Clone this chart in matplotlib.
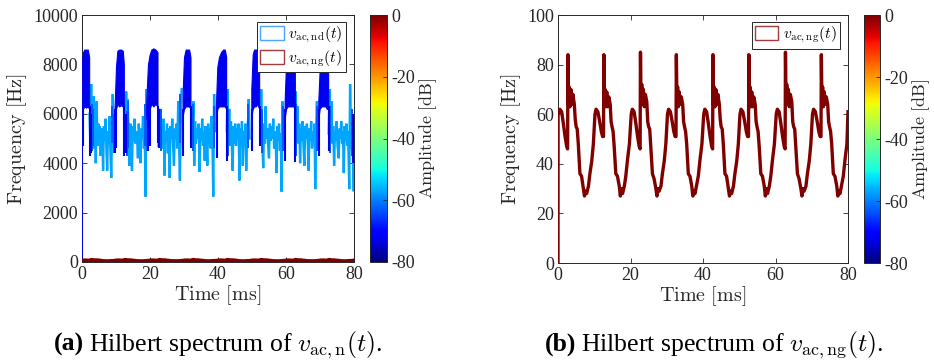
import numpy as np
import matplotlib
matplotlib.use('Agg')
import matplotlib.pyplot as plt
from matplotlib import colors
from matplotlib.cm import ScalarMappable
from matplotlib.patches import Patch

plt.rcParams['font.family'] = ['Liberation Serif', 'DejaVu Serif']
plt.rcParams['mathtext.fontset'] = 'cm'

# ---------------- data ----------------
# v_ac,ng(t): instantaneous frequency [Hz] vs time [ms], per 10 ms period
ng_t = [
    [0.0, 0.02, 0.5, 1.0, 1.5, 1.95, 2.4, 2.65, 2.75, 2.9, 3.1, 3.3, 3.55, 3.8, 4.1, 4.5, 4.75, 5.0, 5.3, 5.6, 6.05, 6.5, 7.0, 7.3, 7.6, 7.9, 8.4, 8.8, 9.3, 9.75],
    [10.0, 10.2, 10.5, 11.0, 11.5, 11.95, 12.3, 12.55, 12.65, 12.8, 13.0, 13.2, 13.45, 13.7, 14.0, 14.4, 14.65, 14.9, 15.2, 15.5, 15.95, 16.4, 16.9, 17.2, 17.5, 17.8, 18.3, 18.7, 19.2, 19.7],
    [20.0, 20.2, 20.5, 21.0, 21.5, 21.95, 22.4, 22.65, 22.75, 22.9, 23.1, 23.3, 23.55, 23.8, 24.1, 24.5, 24.75, 25.0, 25.3, 25.6, 26.05, 26.5, 27.0, 27.3, 27.6, 27.9, 28.4, 28.8, 29.3, 29.75],
    [30.0, 30.2, 30.5, 31.0, 31.5, 31.95, 32.3, 32.55, 32.65, 32.8, 33.0, 33.2, 33.45, 33.7, 34.0, 34.4, 34.65, 34.9, 35.2, 35.5, 35.95, 36.4, 36.9, 37.2, 37.5, 37.8, 38.3, 38.7, 39.2, 39.7],
    [40.0, 40.2, 40.5, 41.0, 41.5, 41.95, 42.4, 42.65, 42.75, 42.9, 43.1, 43.3, 43.55, 43.8, 44.1, 44.5, 44.75, 45.0, 45.3, 45.6, 46.05, 46.5, 47.0, 47.3, 47.6, 47.9, 48.4, 48.8, 49.3, 49.75],
    [50.0, 50.2, 50.5, 51.0, 51.5, 51.95, 52.3, 52.55, 52.65, 52.8, 53.0, 53.2, 53.45, 53.7, 54.0, 54.4, 54.65, 54.9, 55.2, 55.5, 55.95, 56.4, 56.9, 57.2, 57.5, 57.8, 58.3, 58.7, 59.2, 59.7],
    [60.0, 60.2, 60.5, 61.0, 61.5, 61.95, 62.4, 62.65, 62.75, 62.9, 63.1, 63.3, 63.55, 63.8, 64.1, 64.5, 64.75, 65.0, 65.3, 65.6, 66.05, 66.5, 67.0, 67.3, 67.6, 67.9, 68.4, 68.8, 69.3, 69.75],
    [70.0, 70.2, 70.5, 71.0, 71.5, 71.95, 72.3, 72.55, 72.65, 72.8, 73.0, 73.2, 73.45, 73.7, 74.0, 74.4, 74.65, 74.9, 75.2, 75.5, 75.95, 76.4, 76.9, 77.2, 77.5, 77.8, 78.3, 78.7, 79.2, 79.7, 80.0],
]
ng_f = [
    [0, 60, 62, 61, 56, 51, 47, 46, 84, 64, 71, 63, 70, 64, 68, 64, 58, 55, 54, 48, 36, 35, 30, 27, 29, 28, 31, 36, 41, 48],
    [55, 60, 62, 61, 57, 53, 51, 51, 84, 65, 70, 63, 69, 63, 67, 64, 57, 55, 53, 47, 36, 35, 31, 27, 30, 28, 31, 35, 42, 48],
    [55, 60, 62, 61, 56, 51, 47, 46, 85, 64, 72, 64, 70, 63, 68, 65, 57, 55, 54, 47, 36, 34, 30, 27, 30, 29, 31, 36, 41, 48],
    [55, 60, 62, 61, 57, 53, 51, 51, 84, 66, 71, 63, 69, 64, 67, 64, 57, 55, 53, 48, 36, 35, 31, 27, 29, 28, 32, 35, 42, 48],
    [55, 60, 62, 61, 56, 51, 47, 46, 84, 64, 71, 63, 70, 64, 68, 64, 58, 55, 54, 48, 36, 35, 30, 27, 29, 28, 31, 36, 41, 48],
    [55, 60, 62, 61, 57, 53, 51, 51, 84, 65, 71, 63, 69, 63, 67, 64, 57, 55, 53, 47, 36, 35, 31, 27, 30, 28, 31, 35, 42, 48],
    [55, 60, 62, 61, 56, 51, 47, 46, 85, 64, 72, 64, 70, 63, 68, 65, 57, 55, 54, 47, 36, 34, 30, 27, 30, 29, 31, 36, 41, 48],
    [55, 60, 62, 61, 57, 53, 51, 51, 84, 66, 71, 63, 69, 64, 67, 64, 57, 55, 53, 48, 36, 35, 31, 27, 29, 28, 32, 35, 42, 48, 61],
]
ng_amp_db = 0

# v_ac,nd(t): low-amplitude (light blue) spiky component between the bursts
nd_light_t = [
    [2.2, 2.45, 2.7, 2.9, 3.1, 3.3, 3.5, 3.7, 3.9, 4.05, 4.3, 4.55, 4.8, 5.0, 5.25, 5.5, 5.75, 6.0, 6.2, 6.45, 6.7, 6.95, 7.15, 7.4, 7.65, 7.9, 8.1, 8.35, 8.6, 8.85, 9.05, 9.3],
    [12.5, 12.75, 13.0, 13.2, 13.45, 13.7, 13.95, 14.2, 14.45, 14.7, 14.95, 15.2, 15.45, 15.7, 15.95, 16.2, 16.45, 16.7, 16.95, 17.2, 17.45, 17.7, 17.95, 18.2, 18.45, 18.7, 18.95, 19.2],
    [22.5, 22.75, 23.0, 23.25, 23.5, 23.75, 24.0, 24.25, 24.5, 24.75, 25.0, 25.25, 25.5, 25.8, 26.05, 26.3, 26.55, 26.8, 27.05, 27.3, 27.55, 27.8, 28.05, 28.3, 28.55, 28.8, 29.05, 29.3],
    [32.2, 32.5, 32.8, 33.0, 33.25, 33.5, 33.75, 34.0, 34.3, 34.6, 34.85, 35.1, 35.35, 35.6, 35.85, 36.1, 36.35, 36.6, 36.85, 37.1, 37.35, 37.6, 37.85, 38.1, 38.35, 38.6, 38.85, 39.1],
    [42.6, 42.8, 43.05, 43.3, 43.55, 43.8, 44.05, 44.3, 44.55, 44.8, 45.05, 45.3, 45.55, 45.8, 46.05, 46.3, 46.55, 46.8, 47.05, 47.3, 47.55, 47.8, 48.05, 48.3, 48.55, 48.8, 49.05, 49.3],
    [52.45, 52.7, 52.95, 53.3, 53.55, 53.8, 54.0, 54.25, 54.5, 54.75, 55.0, 55.25, 55.5, 55.75, 56.0, 56.25, 56.5, 56.75, 57.0, 57.2, 57.45, 57.7, 57.95, 58.2, 58.45, 58.7, 58.95, 59.2],
    [62.7, 62.9, 63.15, 63.4, 63.65, 63.9, 64.15, 64.4, 64.65, 64.9, 65.15, 65.4, 65.65, 65.9, 66.15, 66.4, 66.65, 66.9, 67.15, 67.4, 67.65, 67.9, 68.15, 68.4, 68.6, 68.85, 69.1, 69.3],
    [72.55, 72.8, 73.05, 73.4, 73.65, 73.9, 74.15, 74.4, 74.65, 74.9, 75.15, 75.5, 75.75, 76.0, 76.25, 76.5, 76.75, 77.0, 77.25, 77.5, 77.75, 78.0, 78.25, 78.6, 78.85, 79.1, 79.35, 79.6, 79.8, 80.0],
]
nd_light_f = [
    [6000, 4900, 7200, 5000, 6300, 4600, 6700, 4800, 5900, 4000, 6500, 4700, 5600, 4900, 5500, 4300, 5400, 5000, 3700, 5500, 4900, 5800, 4700, 3700, 5300, 4800, 5900, 4500, 3400, 5500, 6800, 5000],
    [5200, 5800, 6900, 4800, 6600, 5000, 3900, 5600, 5100, 3700, 5500, 4900, 5800, 4800, 5300, 5000, 4200, 5600, 4900, 4000, 5400, 5000, 5900, 4600, 5200, 2650, 7000, 5200],
    [4700, 5600, 6200, 4900, 5500, 4600, 5800, 3500, 5300, 4900, 5600, 4400, 5400, 3400, 5500, 5000, 5800, 4700, 3900, 5400, 5000, 5600, 4600, 6500, 4800, 3300, 5700, 7000],
    [5000, 5600, 6500, 3900, 5700, 4800, 5400, 5000, 5600, 3650, 5400, 4900, 5800, 4700, 5300, 4100, 5500, 5000, 3900, 5600, 4800, 5400, 4600, 5900, 5100, 2650, 6800, 5300],
    [5300, 7000, 5000, 6200, 4700, 5700, 4900, 3700, 5500, 4800, 5600, 4700, 5400, 5000, 5600, 3300, 5400, 4900, 5700, 3900, 5300, 4900, 5600, 3700, 5100, 5600, 6600, 5000],
    [5100, 7000, 5200, 3800, 5600, 4800, 6300, 5000, 5400, 4700, 4200, 5600, 4900, 5500, 5000, 5800, 4600, 5300, 4800, 3600, 5500, 4900, 5600, 4500, 5200, 2850, 6500, 5200],
    [5200, 6900, 4900, 6300, 4800, 5600, 4000, 5400, 4900, 5700, 4700, 3900, 5500, 5000, 5600, 4800, 3700, 5400, 4900, 5700, 4600, 5300, 4900, 5600, 2950, 5300, 6500, 5000],
    [5200, 7000, 5000, 6500, 4800, 5500, 3900, 5300, 4900, 5700, 4700, 4200, 5400, 5000, 5700, 4800, 5300, 3600, 5500, 4900, 5600, 4700, 5300, 2950, 7200, 5200, 4600, 5800, 2900, 2900],
]
nd_light_amp_db = -57

# v_ac,nd(t): medium-amplitude strokes near the bursts (time, min, max)
nd_mid_t = [2.9, 3.3, 8.9, 9.3, 13.1, 13.6, 18.5, 19.2, 23.1, 28.9, 32.7, 38.9, 42.9, 48.9, 52.9, 59.1, 63.0, 69.0, 72.9, 79.3]
nd_mid_lo = [4500, 4700, 4800, 4400, 4300, 4600, 4700, 4500, 4500, 4800, 4500, 4600, 4300, 4600, 4400, 4500, 4300, 4500, 4400, 4300]
nd_mid_hi = [6400, 6200, 6300, 6000, 6100, 6500, 6400, 6300, 6200, 6800, 6400, 6300, 6200, 6400, 6200, 6300, 6400, 6300, 6300, 6200]
nd_mid_amp_db = -63

# v_ac,nd(t): high-frequency bursts (dark blue), lower / upper envelope
nd_burst_t = [
    [0.05, 0.3, 0.7, 1.2, 1.7, 2.1],
    [9.6, 10.0, 10.4, 10.9, 11.5, 12.0, 12.3],
    [18.9, 19.4, 19.9, 20.4, 21.0, 21.6, 22.2],
    [29.6, 30.0, 30.5, 31.0, 31.5, 31.9],
    [39.4, 39.8, 40.3, 40.9, 41.5, 42.0, 42.4],
    [49.8, 50.2, 50.6, 51.1, 51.6, 52.1],
    [59.6, 60.0, 60.5, 61.0, 61.6, 62.2, 62.6],
    [69.5, 69.9, 70.4, 71.0, 71.6, 72.0, 72.4],
]
nd_burst_hi = [
    [8200, 8500, 8600, 8600, 8600, 8300],
    [6300, 7900, 8550, 8600, 8600, 8550, 8000],
    [6500, 8000, 8400, 8600, 8650, 8600, 8500],
    [6800, 8300, 8600, 8600, 8600, 8300],
    [6400, 7900, 8300, 8500, 8600, 8600, 8300],
    [7000, 8400, 8600, 8600, 8600, 8200],
    [6500, 8000, 8500, 8600, 8600, 8500, 8000],
    [6500, 7800, 8400, 8600, 8600, 8500, 7800],
]
nd_burst_lo = [
    [5800, 6200, 6300, 6250, 6300, 6200],
    [5900, 6200, 6400, 6300, 6350, 6300, 6100],
    [5800, 6000, 6200, 6400, 6300, 6400, 6300],
    [5900, 6200, 6300, 6300, 6300, 6200],
    [5800, 6200, 6300, 6300, 6300, 6300, 6200],
    [5900, 6200, 6300, 6300, 6400, 6200],
    [5800, 6200, 6300, 6300, 6300, 6300, 6200],
    [5800, 6200, 6300, 6300, 6300, 6200, 6200],
]
# dark blue excursions below the bursts: time, min, max
nd_spike_t = [0.0, 0.25, 2.3, 2.6, 9.7, 10.0, 12.4, 12.8, 19.5, 20.0, 22.3, 22.6, 29.8, 32.0, 39.6, 42.5, 49.9, 52.3, 59.8, 62.6, 69.7, 72.5, 79.8]
nd_spike_lo = [0, 4700, 4300, 4400, 4400, 4600, 4300, 4400, 4500, 4700, 4800, 4600, 4300, 4600, 4200, 4100, 4500, 4700, 4100, 4050, 4300, 4500, 4000]
nd_spike_hi = [4800, 6300, 6300, 6000, 6200, 6300, 6300, 6000, 6200, 6300, 6300, 6200, 6200, 6300, 6300, 6300, 6200, 6300, 6200, 6300, 6200, 6300, 6000]
nd_burst_amp_db = -72

x_ticks = [0, 20, 40, 60, 80]
y1_ticks = [0, 2000, 4000, 6000, 8000, 10000]
y2_ticks = [0, 20, 40, 60, 80, 100]
cb_ticks = [-80, -60, -40, -20, 0]
cb_ticklabels = ['-80', '-60', '-40', '-20', '0']

# ---------------- figure ----------------
W, H = 934, 364
fig = plt.figure(figsize=(W / 100, H / 100), dpi=100)


def frame(x0, y0, x1, y1):
    return [x0 / W, 1 - y1 / H, (x1 - x0) / W, (y1 - y0) / H]


ax1 = fig.add_axes(frame(82, 15, 354, 262))
cax1 = fig.add_axes(frame(370, 15, 387, 262))
ax2 = fig.add_axes(frame(558, 15, 848, 263))
cax2 = fig.add_axes(frame(864, 15, 880, 263))

cmap = plt.get_cmap('jet')
norm = colors.Normalize(vmin=-80, vmax=0)
c_ng = cmap(norm(ng_amp_db))
c_light = cmap(norm(nd_light_amp_db))
c_mid = cmap(norm(nd_mid_amp_db))
c_dark = cmap(norm(nd_burst_amp_db))

ng_t_all = np.concatenate([np.asarray(p, float) for p in ng_t])
ng_f_all = np.concatenate([np.asarray(p, float) for p in ng_f])

# left panel
for t, f in zip(nd_light_t, nd_light_f):
    ax1.plot(t, f, color=c_light, lw=1.7, zorder=2, solid_joinstyle='miter')
ax1.vlines(nd_mid_t, nd_mid_lo, nd_mid_hi, color=c_mid, lw=1.4, zorder=2.5)
for t, lo, hi in zip(nd_burst_t, nd_burst_lo, nd_burst_hi):
    ax1.fill_between(t, lo, hi, color=c_dark, lw=0.8, zorder=3)
ax1.vlines(nd_spike_t, nd_spike_lo, nd_spike_hi, color=c_dark, lw=1.5, zorder=3)
ax1.plot(ng_t_all, ng_f_all, color=c_ng, lw=3.0, zorder=4)
ax1.set_xlim(0, 80)
ax1.set_ylim(0, 10000)
ax1.set_yticks(y1_ticks)

# right panel
ax2.plot(ng_t_all, ng_f_all, color=c_ng, lw=2.4, zorder=3)
ax2.set_xlim(0, 80)
ax2.set_ylim(0, 100)
ax2.set_yticks(y2_ticks)

axcol = '#262626'
for ax in (ax1, ax2):
    ax.set_xticks(x_ticks)
    ax.tick_params(direction='in', top=True, right=True, length=3.5, width=0.6,
                   labelsize=13, color=axcol, labelcolor=axcol, pad=3)
    for s in ax.spines.values():
        s.set_color(axcol)
        s.set_linewidth(0.7)
    ax.set_xlabel(r'$\mathrm{Time\ [ms]}$', fontsize=14.5, color=axcol, labelpad=0)
    ax.set_ylabel(r'$\mathrm{Frequency\ [Hz]}$', fontsize=14.5, color=axcol, labelpad=3)

for cax in (cax1, cax2):
    cb = fig.colorbar(ScalarMappable(norm=norm, cmap=cmap), cax=cax, ticks=cb_ticks)
    cb.ax.set_yticklabels(cb_ticklabels)
    cb.ax.tick_params(direction='in', length=3, width=0.6, labelsize=13,
                      color=axcol, labelcolor=axcol, pad=3)
    cb.outline.set_edgecolor(axcol)
    cb.outline.set_linewidth(0.7)
    cb.set_label(r'$\mathrm{Amplitude\ [dB]}$', fontsize=13, color=axcol, labelpad=2)

# legends
h_nd = Patch(facecolor='white', edgecolor='#4da3ff', lw=1.0)
h_ng = Patch(facecolor='white', edgecolor='#a03c3c', lw=1.0)
leg_kw = dict(loc='upper right', fontsize=11.3, fancybox=False, framealpha=1,
              edgecolor=axcol, borderaxespad=0, borderpad=0.2, handlelength=1.5,
              handleheight=1.0, handletextpad=0.3, labelspacing=0.2)
l1 = ax1.legend([h_nd, h_ng], [r'$v_{\mathrm{ac,nd}}(t)$', r'$v_{\mathrm{ac,ng}}(t)$'],
                bbox_to_anchor=(1 - 8 / 272, 1 - 7 / 247), **leg_kw)
l2 = ax2.legend([h_ng], [r'$v_{\mathrm{ac,ng}}(t)$'],
                bbox_to_anchor=(1 - 8 / 290, 1 - 7 / 248), **leg_kw)
for lg in (l1, l2):
    lg.get_frame().set_linewidth(0.7)
    lg.set_zorder(10)

# captions
cap_y = 1 - 351 / H
fs_cap = 18.5
caps = []
for cx, tag, rest in [(218, '(a)', r'Hilbert spectrum of $v_{\mathrm{ac,n}}(t)$.'),
                      (714, '(b)', r'Hilbert spectrum of $v_{\mathrm{ac,ng}}(t)$.')]:
    t1 = fig.text(0, cap_y, tag, fontsize=fs_cap, fontweight='bold', va='baseline')
    t2 = fig.text(0, cap_y, rest, fontsize=fs_cap, va='baseline')
    caps.append((cx, t1, t2))

fig.canvas.draw()
r = fig.canvas.get_renderer()
for cx, t1, t2 in caps:
    w1 = t1.get_window_extent(r).width
    w2 = t2.get_window_extent(r).width
    gap = 5
    x0 = cx - (w1 + gap + w2) / 2
    t1.set_x(x0 / W)
    t2.set_x((x0 + w1 + gap) / W)

fig.savefig('out.png', dpi=100)
